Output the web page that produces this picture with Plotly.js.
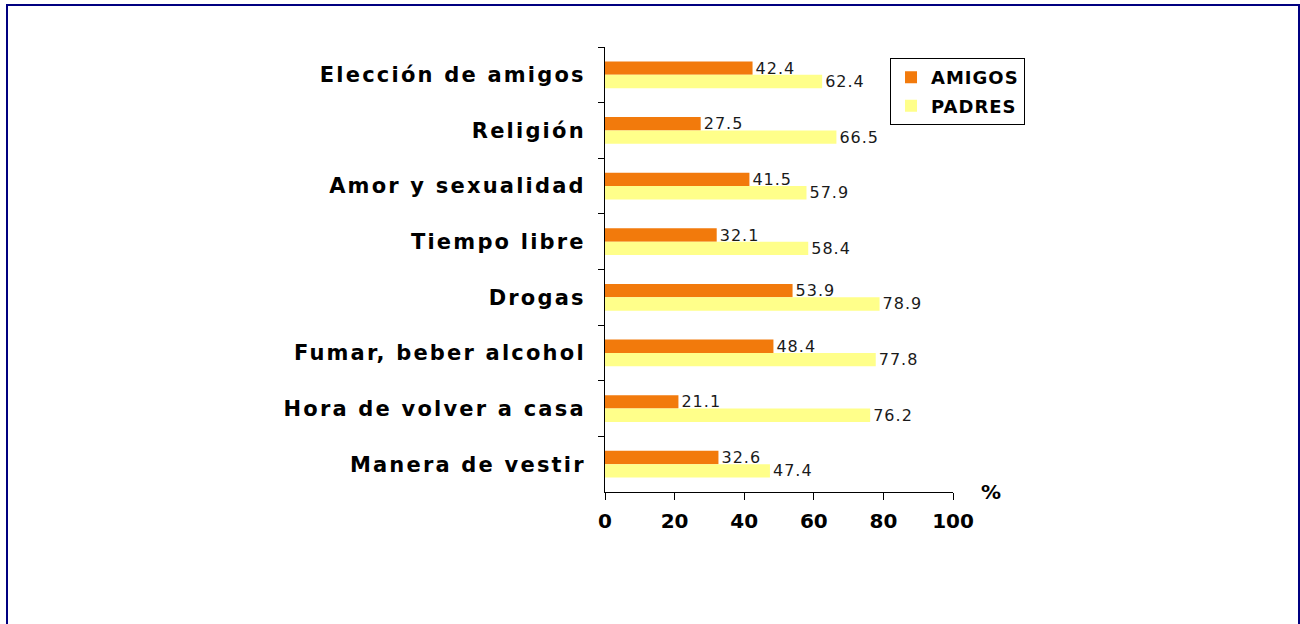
<!DOCTYPE html>
<html>
<head>
<meta charset="utf-8">
<script src="https://cdn.plot.ly/plotly-3.0.1.min.js"></script>
<style>
  body { margin: 0; background: #fff; }
  #marco {
    position: absolute; left: 6px; top: 4px;
    width: 1290px; height: 700px;
    border: 2px solid #000080; border-bottom: none;
  }
  #grafico { position: absolute; left: 0; top: 0; width: 1300px; height: 624px; }
  .ytick text { letter-spacing: 2.2px; }
  .bartext { letter-spacing: 1px; }
  .legendtext { letter-spacing: 1px; }
</style>
</head>
<body>
<div id="marco"></div>
<div id="grafico"></div>
<script>
// Temas, de arriba abajo
const temas = ['Elección de amigos', 'Religión', 'Amor y sexualidad', 'Tiempo libre',
    'Drogas', 'Fumar, beber alcohol', 'Hora de volver a casa', 'Manera de vestir'];

// Porcentajes de cada grupo
const amigos = [42.4, 27.5, 41.5, 32.1, 53.9, 48.4, 21.1, 32.6];
const padres = [62.4, 66.5, 57.9, 58.4, 78.9, 77.8, 76.2, 47.4];

const ticksX = [0, 20, 40, 60, 80, 100];

const fuenteTexto = { family: 'DejaVu Sans', size: 16, color: '#1a1a1a' };

const data = [
    {
        name: 'AMIGOS',
        legendgroup: 'a',
        y: temas,
        x: amigos,
        type: 'bar',
        orientation: 'h',
        marker: { color: '#f27a0c' },
        text: amigos.map(v => v.toFixed(1)),
        textposition: 'outside',
        constraintext: 'none',
        textfont: fuenteTexto,
        cliponaxis: false,
        hoverinfo: 'x+y'
    },
    {
        name: 'PADRES',
        legendgroup: 'p',
        y: temas,
        x: padres,
        type: 'bar',
        orientation: 'h',
        marker: { color: '#ffff8a' },
        text: padres.map(v => v.toFixed(1)),
        textposition: 'outside',
        constraintext: 'none',
        textfont: fuenteTexto,
        cliponaxis: false,
        hoverinfo: 'x+y'
    }
];

const layout = {
    width: 1300,
    height: 624,
    margin: { l: 605, r: 347, t: 47, b: 132 },
    barmode: 'group',
    bargap: 0.52,
    bargroupgap: 0,
    showlegend: true,
    legend: {
        x: 0.819, y: 0.975, xanchor: 'left', yanchor: 'top',
        bgcolor: '#fff', bordercolor: '#000', borderwidth: 1,
        font: { family: 'DejaVu Sans', size: 18, weight: 'bold', color: '#000' },
        traceorder: 'grouped',
        tracegroupgap: 2,
        itemwidth: 30
    },
    xaxis: {
        range: [0, 100],
        tickvals: ticksX,
        ticktext: ticksX.map(String),
        ticks: 'outside', ticklen: 7, tickcolor: '#000',
        showline: true, linecolor: '#000', linewidth: 1,
        showgrid: false, zeroline: false,
        tickfont: { family: 'DejaVu Sans', size: 20, weight: 'bold', color: '#000' },
        ticklabelstandoff: 4,
        fixedrange: true
    },
    yaxis: {
        autorange: 'reversed',
        type: 'category',
        ticks: 'outside', ticklen: 6, tickcolor: '#000',
        tickson: 'boundaries',
        showline: true, linecolor: '#000', linewidth: 1,
        showgrid: false, zeroline: false,
        tickfont: { family: 'DejaVu Sans', size: 21, weight: 'bold', color: '#000' },
        ticklabelstandoff: 14,
        fixedrange: true
    },
    annotations: [
        {
            text: '%', xref: 'paper', yref: 'paper', x: 1.109, y: 0,
            xanchor: 'center', yanchor: 'middle', showarrow: false,
            font: { family: 'DejaVu Sans', size: 20, weight: 'bold', color: '#000' }
        }
    ],
    plot_bgcolor: 'rgba(0,0,0,0)',
    paper_bgcolor: 'rgba(0,0,0,0)'
};

Plotly.newPlot('grafico', data, layout, { displayModeBar: false, staticPlot: true });
</script>
</body>
</html>
